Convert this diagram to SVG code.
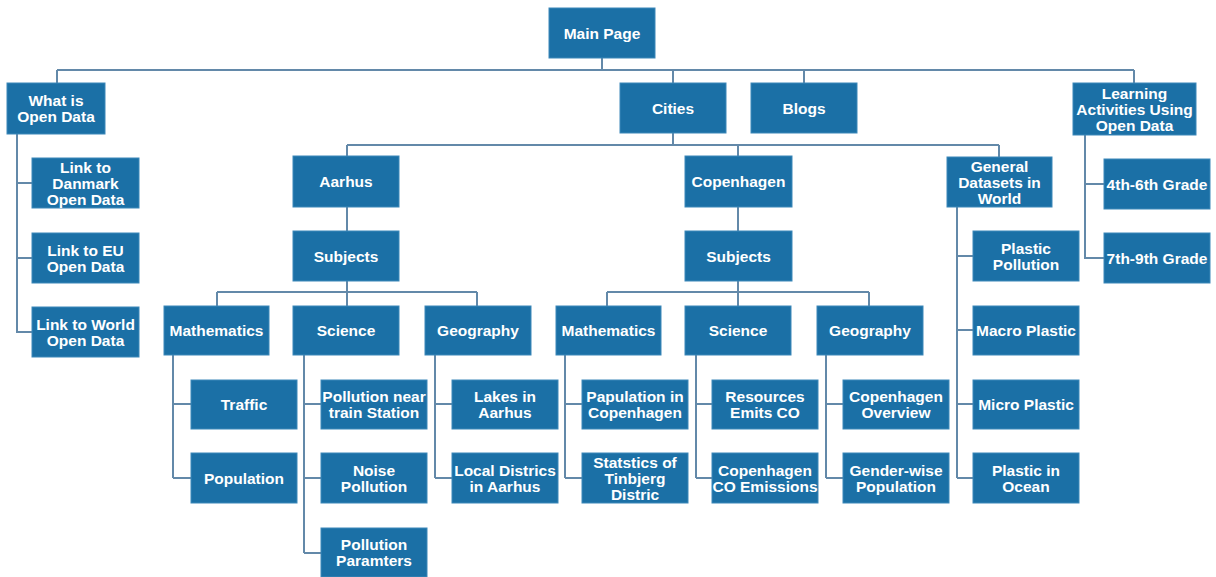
<svg xmlns="http://www.w3.org/2000/svg" width="1216" height="577" viewBox="0 0 1216 577">
<style>
.box{fill:#1b70a6;stroke:#3d88b9;stroke-width:1}
.t{font-family:"Liberation Sans",Arial,sans-serif;font-weight:bold;font-size:15.5px;fill:#ffffff;text-anchor:middle}
.c{stroke:#6389a9;stroke-width:2;fill:none}
</style>
<rect width="1216" height="577" fill="#ffffff"/>
<g id="connectors" class="c">
<path d="M602 58V70M57 70H1134M57 70V83M673 70V83M804 70V83M1134 70V83"/>
<path d="M17 134V333M17 183H32M17 258H32M17 332H32"/>
<path d="M673 133V145M347 145H999M347 145V156M738 145V156M999 145V157"/>
<path d="M1085 135V259M1085 184H1104M1085 258H1104"/>
<path d="M347 207V231M347 281V292M217 292H477M217 292V306M347 292V306M477 292V306"/>
<path d="M173 355V478M173 404H191M173 478H191"/>
<path d="M304 355V553M304 404H321M304 478H321M304 553H321"/>
<path d="M435 355V478M435 404H452M435 478H452"/>
<path d="M738 207V231M738 281V292M607 292H869M607 292V306M738 292V306M869 292V306"/>
<path d="M565 355V478M565 404H582M565 478H582"/>
<path d="M696 355V478M696 404H712M696 478H712"/>
<path d="M826 355V478M826 404H843M826 478H843"/>
<path d="M957 207V478M957 256H973M957 330H973M957 404H973M957 478H973"/>
</g>
<g id="main-page"><rect class="box" x="549" y="8" width="106" height="50"/><text class="t" x="602" y="38.5">Main Page</text></g>
<g id="what-is-open-data"><rect class="box" x="7" y="83" width="98" height="51"/><text class="t" x="56" y="106">What is</text><text class="t" x="56" y="122">Open Data</text></g>
<g id="cities"><rect class="box" x="620" y="83" width="106" height="50"/><text class="t" x="673" y="113.5">Cities</text></g>
<g id="blogs"><rect class="box" x="751" y="83" width="106" height="50"/><text class="t" x="804" y="113.5">Blogs</text></g>
<g id="learning"><rect class="box" x="1073" y="83" width="123" height="52"/><text class="t" x="1134.5" y="98.5">Learning</text><text class="t" x="1134.5" y="114.5">Activities Using</text><text class="t" x="1134.5" y="130.5">Open Data</text></g>
<g id="link-danmark"><rect class="box" x="32" y="158" width="107" height="50"/><text class="t" x="85.5" y="172.5">Link to</text><text class="t" x="85.5" y="188.5">Danmark</text><text class="t" x="85.5" y="204.5">Open Data</text></g>
<g id="link-eu"><rect class="box" x="32" y="233" width="107" height="50"/><text class="t" x="85.5" y="255.5">Link to EU</text><text class="t" x="85.5" y="271.5">Open Data</text></g>
<g id="link-world"><rect class="box" x="32" y="307" width="107" height="50"/><text class="t" x="85.5" y="329.5">Link to World</text><text class="t" x="85.5" y="345.5">Open Data</text></g>
<g id="aarhus"><rect class="box" x="293" y="156" width="106" height="51"/><text class="t" x="346" y="187">Aarhus</text></g>
<g id="copenhagen"><rect class="box" x="685" y="156" width="107" height="51"/><text class="t" x="738.5" y="187">Copenhagen</text></g>
<g id="general"><rect class="box" x="947" y="157" width="105" height="50"/><text class="t" x="999.5" y="171.5">General</text><text class="t" x="999.5" y="187.5">Datasets in</text><text class="t" x="999.5" y="203.5">World</text></g>
<g id="grade-4-6"><rect class="box" x="1104" y="159" width="106" height="50"/><text class="t" x="1157" y="189.5">4th-6th Grade</text></g>
<g id="grade-7-9"><rect class="box" x="1104" y="233" width="106" height="50"/><text class="t" x="1157" y="263.5">7th-9th Grade</text></g>
<g id="subjects-aarhus"><rect class="box" x="293" y="231" width="106" height="50"/><text class="t" x="346" y="261.5">Subjects</text></g>
<g id="subjects-cph"><rect class="box" x="685" y="231" width="107" height="50"/><text class="t" x="738.5" y="261.5">Subjects</text></g>
<g id="plastic-pollution"><rect class="box" x="973" y="231" width="106" height="50"/><text class="t" x="1026" y="253.5">Plastic</text><text class="t" x="1026" y="269.5">Pollution</text></g>
<g id="math-aarhus"><rect class="box" x="164" y="306" width="105" height="49"/><text class="t" x="216.5" y="336">Mathematics</text></g>
<g id="science-aarhus"><rect class="box" x="293" y="306" width="106" height="49"/><text class="t" x="346" y="336">Science</text></g>
<g id="geo-aarhus"><rect class="box" x="425" y="306" width="106" height="49"/><text class="t" x="478" y="336">Geography</text></g>
<g id="math-cph"><rect class="box" x="556" y="306" width="105" height="49"/><text class="t" x="608.5" y="336">Mathematics</text></g>
<g id="science-cph"><rect class="box" x="685" y="306" width="106" height="49"/><text class="t" x="738" y="336">Science</text></g>
<g id="geo-cph"><rect class="box" x="817" y="306" width="106" height="49"/><text class="t" x="870" y="336">Geography</text></g>
<g id="macro-plastic"><rect class="box" x="973" y="306" width="106" height="49"/><text class="t" x="1026" y="336">Macro Plastic</text></g>
<g id="traffic"><rect class="box" x="191" y="380" width="106" height="49"/><text class="t" x="244" y="410">Traffic</text></g>
<g id="pollution-train"><rect class="box" x="321" y="380" width="106" height="49"/><text class="t" x="374" y="402">Pollution near</text><text class="t" x="374" y="418">train Station</text></g>
<g id="lakes"><rect class="box" x="452" y="380" width="106" height="49"/><text class="t" x="505" y="402">Lakes in</text><text class="t" x="505" y="418">Aarhus</text></g>
<g id="papulation"><rect class="box" x="582" y="380" width="106" height="49"/><text class="t" x="635" y="402">Papulation in</text><text class="t" x="635" y="418">Copenhagen</text></g>
<g id="resources"><rect class="box" x="712" y="380" width="106" height="49"/><text class="t" x="765" y="402">Resources</text><text class="t" x="765" y="418">Emits CO</text></g>
<g id="cph-overview"><rect class="box" x="843" y="380" width="106" height="49"/><text class="t" x="896" y="402">Copenhagen</text><text class="t" x="896" y="418">Overview</text></g>
<g id="micro-plastic"><rect class="box" x="973" y="380" width="106" height="49"/><text class="t" x="1026" y="410">Micro Plastic</text></g>
<g id="population"><rect class="box" x="191" y="453" width="106" height="50"/><text class="t" x="244" y="483.5">Population</text></g>
<g id="noise"><rect class="box" x="321" y="453" width="106" height="50"/><text class="t" x="374" y="475.5">Noise</text><text class="t" x="374" y="491.5">Pollution</text></g>
<g id="local-districs"><rect class="box" x="452" y="453" width="106" height="50"/><text class="t" x="505" y="475.5">Local Districs</text><text class="t" x="505" y="491.5">in Aarhus</text></g>
<g id="statstics"><rect class="box" x="582" y="453" width="106" height="50"/><text class="t" x="635" y="467.5">Statstics of</text><text class="t" x="635" y="483.5">Tinbjerg</text><text class="t" x="635" y="499.5">Distric</text></g>
<g id="cph-co"><rect class="box" x="712" y="453" width="106" height="50"/><text class="t" x="765" y="475.5">Copenhagen</text><text class="t" x="765" y="491.5">CO Emissions</text></g>
<g id="gender"><rect class="box" x="843" y="453" width="106" height="50"/><text class="t" x="896" y="475.5">Gender-wise</text><text class="t" x="896" y="491.5">Population</text></g>
<g id="plastic-ocean"><rect class="box" x="973" y="453" width="106" height="50"/><text class="t" x="1026" y="475.5">Plastic in</text><text class="t" x="1026" y="491.5">Ocean</text></g>
<g id="pollution-params"><rect class="box" x="321" y="528" width="106" height="49"/><text class="t" x="374" y="550">Pollution</text><text class="t" x="374" y="566">Paramters</text></g>
</svg>
